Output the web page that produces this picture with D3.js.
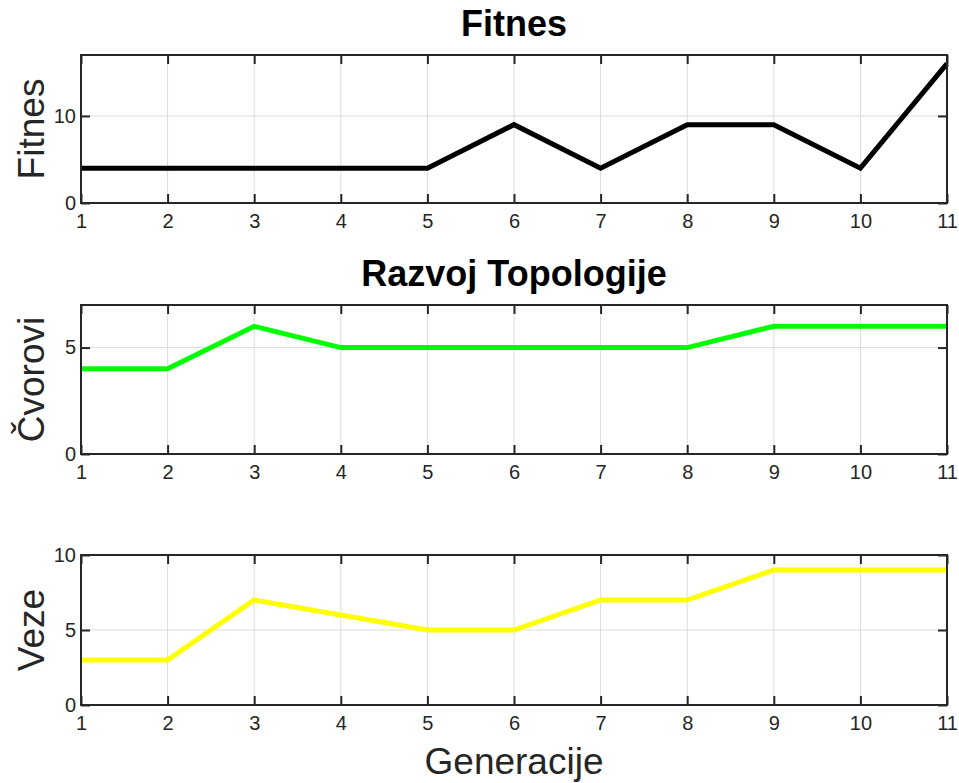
<!DOCTYPE html>
<html>
<head>
<meta charset="utf-8">
<script src="https://cdn.jsdelivr.net/npm/d3@7"></script>
<style>
  body { margin: 0; background: #fff; }
  text { font-family: "Liberation Sans", Arial, sans-serif; }
</style>
</head>
<body>
<div id="chart"></div>
<script>
const generations = [1, 2, 3, 4, 5, 6, 7, 8, 9, 10, 11];
const fitness = [4, 4, 4, 4, 4, 9, 4, 9, 9, 4, 16];
const nodes = [4, 4, 6, 5, 5, 5, 5, 5, 6, 6, 6];
const edges = [3, 3, 7, 6, 5, 5, 7, 7, 9, 9, 9];
const xTicks = [1, 2, 3, 4, 5, 6, 7, 8, 9, 10, 11];

const width = 959, height = 783;
const left = 81, right = 947;

const panels = [
  { values: fitness, color: "#000000", yMax: 17, yTicks: [0, 10], label: "Fitnes", title: "Fitnes", top: 55, bottom: 203 },
  { values: nodes, color: "#00ff00", yMax: 7, yTicks: [0, 5], label: "Čvorovi", title: "Razvoj Topologije", top: 305, bottom: 454 },
  { values: edges, color: "#ffff00", yMax: 10, yTicks: [0, 5, 10], label: "Veze", title: null, top: 555, bottom: 705 }
];

const svg = d3.select("#chart").append("svg")
  .attr("width", width)
  .attr("height", height);

const x = d3.scaleLinear().domain([1, 11]).range([left, right]);

panels.forEach(p => {
  const y = d3.scaleLinear().domain([0, p.yMax]).range([p.bottom, p.top]);
  const g = svg.append("g");

  // grid
  g.selectAll(".vgrid").data(xTicks.slice(1, -1)).enter().append("line")
    .attr("x1", d => x(d)).attr("x2", d => x(d))
    .attr("y1", p.top).attr("y2", p.bottom)
    .attr("stroke", "#dcdcdc").attr("stroke-width", 1);
  g.selectAll(".hgrid").data(p.yTicks.filter(t => t > 0 && t < p.yMax)).enter().append("line")
    .attr("x1", left).attr("x2", right)
    .attr("y1", d => y(d)).attr("y2", d => y(d))
    .attr("stroke", "#dcdcdc").attr("stroke-width", 1);

  // data line
  const line = d3.line().x((d, i) => x(generations[i])).y(d => y(d));
  g.append("path").datum(p.values)
    .attr("d", line)
    .attr("fill", "none")
    .attr("stroke", p.color)
    .attr("stroke-width", 5)
    .attr("stroke-linejoin", "miter");

  // axes (inward ticks, box on all sides)
  const tickLen = 9;
  const fmt = d3.format("d");
  const xb = g.append("g").attr("transform", `translate(0,${p.bottom})`)
    .call(d3.axisBottom(x).tickValues(xTicks).tickSizeInner(-tickLen).tickSizeOuter(0).tickPadding(11).tickFormat(fmt));
  const xt = g.append("g").attr("transform", `translate(0,${p.top})`)
    .call(d3.axisTop(x).tickValues(xTicks).tickSizeInner(-tickLen).tickSizeOuter(0).tickFormat(""));
  const yl = g.append("g").attr("transform", `translate(${left},0)`)
    .call(d3.axisLeft(y).tickValues(p.yTicks).tickSizeInner(-tickLen).tickSizeOuter(0).tickPadding(5).tickFormat(fmt));
  const yr = g.append("g").attr("transform", `translate(${right},0)`)
    .call(d3.axisRight(y).tickValues(p.yTicks).tickSizeInner(-tickLen).tickSizeOuter(0).tickFormat(""));

  [xb, xt, yl, yr].forEach(a => {
    a.attr("font-size", 20).attr("font-family", '"Liberation Sans", Arial, sans-serif');
    a.select(".domain").remove();
    a.selectAll("line").attr("stroke", "#262626").attr("stroke-width", 2);
    a.selectAll("text").attr("fill", "#262626");
  });

  g.append("rect")
    .attr("x", left).attr("y", p.top)
    .attr("width", right - left).attr("height", p.bottom - p.top)
    .attr("fill", "none").attr("stroke", "#262626").attr("stroke-width", 2);

  // y label
  g.append("text")
    .attr("transform", `translate(44,${(p.top + p.bottom) / 2}) rotate(-90)`)
    .attr("text-anchor", "middle")
    .attr("fill", "#262626")
    .style("font-size", "37px")
    .text(p.label);

  if (p.title) {
    g.append("text")
      .attr("x", (left + right) / 2).attr("y", p.top - 19)
      .attr("text-anchor", "middle")
      .attr("fill", "#000")
      .style("font-size", "36px").style("font-weight", "bold")
      .text(p.title);
  }
});

svg.append("text")
  .attr("x", (left + right) / 2).attr("y", 774)
  .attr("text-anchor", "middle")
  .attr("fill", "#262626")
  .style("font-size", "37px")
  .text("Generacije");
</script>
</body>
</html>
